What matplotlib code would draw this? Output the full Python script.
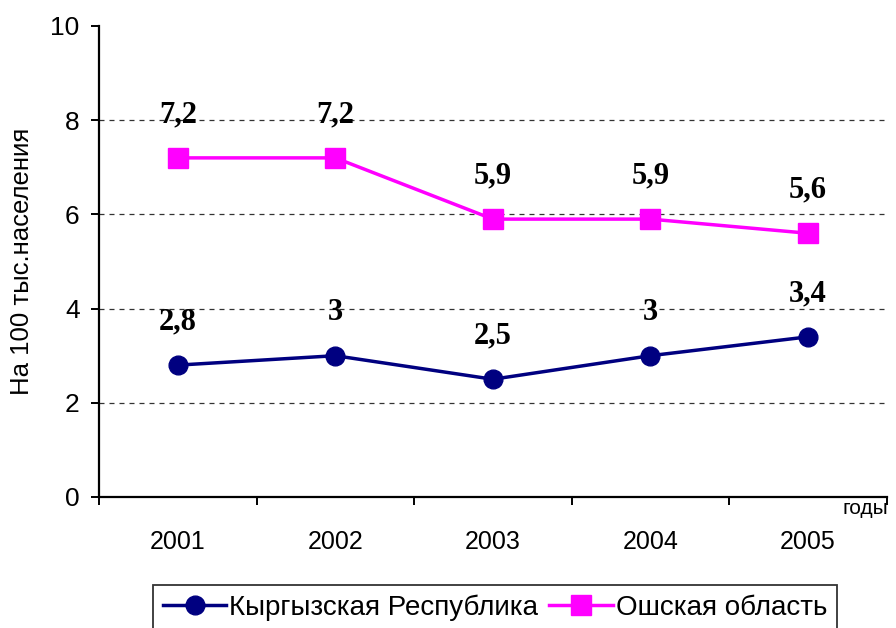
import matplotlib.pyplot as plt
import numpy as np

years = ['2001', '2002', '2003', '2004', '2005']
kyrgyz = [2.8, 3.0, 2.5, 3.0, 3.4]
osh = [7.2, 7.2, 5.9, 5.9, 5.6]
kyrgyz_lbl = ['2,8', '3', '2,5', '3', '3,4']
osh_lbl = ['7,2', '7,2', '5,9', '5,9', '5,6']

plt.rcParams['font.family'] = ['Liberation Sans', 'DejaVu Sans']

fig = plt.figure(figsize=(8.96, 6.28), dpi=100)
ax = fig.add_axes([0.1105, 0.2086, 0.879, 0.75])

x = np.arange(len(years))
l1, = ax.plot(x, kyrgyz, '-o', color='#000080', lw=2.5, markersize=13.5,
              label='Кыргызская Республика', zorder=3)
l2, = ax.plot(x, osh, '-s', color='#FF00FF', lw=2.5, markersize=14.5,
              label='Ошская область', zorder=3)

# data labels above the points
for vals, lbls in [(kyrgyz, kyrgyz_lbl), (osh, osh_lbl)]:
    for xi, v, s in zip(x, vals, lbls):
        ax.annotate(s, (xi, v), xytext=(0, 31), textcoords='offset points',
                    ha='center', va='center', fontsize=22, fontweight='bold',
                    family='Liberation Serif')

ax.set_xlim(-0.5, 4.5)
ax.set_ylim(0, 10)
ax.set_yticks([0, 2, 4, 6, 8, 10])
ax.set_xticks(x)
ax.set_xticklabels(years)
ax.set_xticks(np.arange(-0.5, 5, 1), minor=True)
ax.tick_params(axis='x', which='major', length=0, pad=24, labelsize=18)
ax.tick_params(axis='x', which='minor', length=6, width=1.4, direction='out')
ax.tick_params(axis='y', length=6, width=1.4, direction='out', labelsize=19,
               pad=8)

for yv in [2, 4, 6, 8]:
    ax.axhline(yv, color='#333333', ls=(0, (4, 4)), lw=0.9, zorder=1)

ax.spines['top'].set_visible(False)
ax.spines['right'].set_visible(False)
ax.spines['left'].set_linewidth(1.6)
ax.spines['bottom'].set_linewidth(1.6)

ax.set_ylabel('На 100 тыс.населения', fontsize=18.5)
ax.yaxis.set_label_coords(-0.083, 0.5)
ax.text(0.944, -0.004, 'годы', transform=ax.transAxes, ha='left', va='top',
        fontsize=15)

leg = fig.legend(handles=[l1, l2], loc='upper center',
                 bbox_to_anchor=(495 / 896, 1 - 585 / 628), ncol=2,
                 fontsize=20, frameon=True, fancybox=False, edgecolor='black',
                 handlelength=2.3, handletextpad=0.1, columnspacing=0.4,
                 borderpad=0.35, borderaxespad=0)
leg.get_frame().set_linewidth(1.3)

fig.savefig('out.png', dpi=100)
